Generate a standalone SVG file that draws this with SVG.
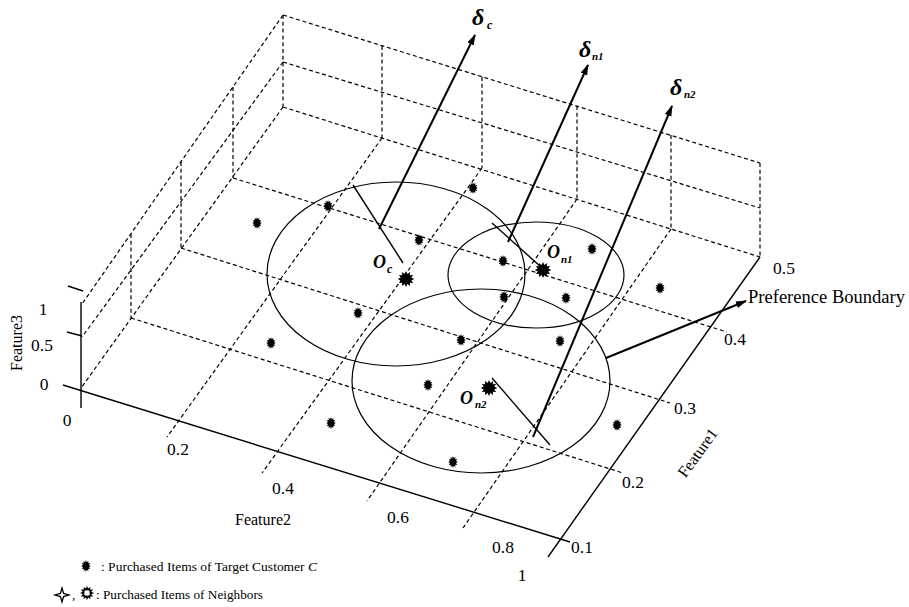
<svg xmlns="http://www.w3.org/2000/svg" xmlns:xlink="http://www.w3.org/1999/xlink" width="909" height="607" viewBox="0 0 909 607">
<style>
.d{fill:none;stroke:#000;stroke-width:1.2;stroke-dasharray:4 2.8}
.ax{fill:none;stroke:#000;stroke-width:1.4}
.el{fill:none;stroke:#000;stroke-width:1.2}
.thin{fill:none;stroke:#000;stroke-width:1.4}
.arr{fill:none;stroke:#000;stroke-width:2;marker-end:url(#ah)}
.num{font-family:"Liberation Serif","Times New Roman",serif;font-size:17.5px;text-anchor:middle;fill:#000}
.lab{font-family:"Liberation Serif","Times New Roman",serif;font-size:16px;text-anchor:middle;fill:#000}
.gk{font-family:"Liberation Serif","Times New Roman",serif;font-weight:bold;font-style:italic;fill:#000}
.leg{font-family:"Liberation Serif","Times New Roman",serif;font-size:13px;fill:#000}
</style>
<defs>
<marker id="ah" markerUnits="userSpaceOnUse" markerWidth="12" markerHeight="8" refX="10" refY="3.5" orient="auto">
<path d="M0,0 L11,3.5 L0,7 Z" fill="#000"/>
</marker>
<polygon id="st" points="5,0 3.2,0.86 4.33,2.5 2.33,2.33 2.5,4.33 0.86,3.2 0,5 -0.86,3.2 -2.5,4.33 -2.33,2.33 -4.33,2.5 -3.2,0.86 -5,0 -3.2,-0.86 -4.33,-2.5 -2.33,-2.33 -2.5,-4.33 -0.86,-3.2 0,-5 0.86,-3.2 2.5,-4.33 2.33,-2.33 4.33,-2.5 3.2,-0.86"/>
<use id="s" xlink:href="#st" href="#st" transform="scale(0.95,1.2)"/>
<use id="b" xlink:href="#st" href="#st" transform="scale(1.65,1.6)"/>
</defs>

<g id="grid">
<line class="d" x1="283" y1="107" x2="760" y2="257"/>
<line class="d" x1="233" y1="178" x2="727" y2="332"/>
<line class="d" x1="181" y1="248" x2="670" y2="403"/>
<line class="d" x1="131" y1="318" x2="623" y2="473"/>
<line class="d" x1="382" y1="138" x2="167" y2="437"/>
<line class="d" x1="482" y1="168" x2="262" y2="473"/>
<line class="d" x1="577" y1="199" x2="367" y2="501"/>
<line class="d" x1="671" y1="229" x2="463" y2="528"/>
<line class="d" x1="283" y1="107" x2="81" y2="388"/>
<line class="d" x1="283" y1="62" x2="82" y2="337"/>
<line class="d" x1="283" y1="15" x2="82" y2="304"/>
<line class="d" x1="283" y1="15" x2="283" y2="107"/>
<line class="d" x1="233" y1="87" x2="233" y2="178"/>
<line class="d" x1="181" y1="162" x2="181" y2="248"/>
<line class="d" x1="131" y1="234" x2="131" y2="318"/>
<line class="d" x1="283" y1="15" x2="760" y2="163"/>
<line class="d" x1="283" y1="62" x2="760" y2="208"/>
<line class="d" x1="382" y1="46" x2="382" y2="138"/>
<line class="d" x1="482" y1="77" x2="482" y2="168"/>
<line class="d" x1="577" y1="106" x2="577" y2="199"/>
<line class="d" x1="671" y1="135" x2="671" y2="229"/>
<line class="d" x1="760" y1="163" x2="760" y2="257"/>
</g>

<g id="axes">
<line class="ax" x1="63" y1="385" x2="570" y2="542"/>
<line class="ax" x1="548" y1="557" x2="760" y2="257"/>
<line class="ax" x1="81" y1="302" x2="81" y2="408" stroke-width="1.7"/>
<line class="ax" x1="68" y1="286" x2="83" y2="291"/>
<line class="ax" x1="67" y1="332" x2="82" y2="336"/>
<text class="num" x="43" y="315">1</text>
<text class="num" x="42" y="351">0.5</text>
<text class="num" x="44" y="390">0</text>
<text class="num" x="67" y="426">0</text>
<text class="num" x="178" y="455">0.2</text>
<text class="num" x="283" y="494">0.4</text>
<text class="num" x="398" y="523">0.6</text>
<text class="num" x="503" y="553">0.8</text>
<text class="num" x="522" y="581">1</text>
<text class="num" x="784" y="274">0.5</text>
<text class="num" x="735" y="345">0.4</text>
<text class="num" x="685" y="414">0.3</text>
<text class="num" x="633" y="488">0.2</text>
<text class="num" x="582" y="553">0.1</text>
<text class="lab" x="263" y="525">Feature2</text>
<text class="lab" transform="translate(17,343) rotate(-90)" x="0" y="5" font-size="15">Feature3</text>
<text class="lab" transform="translate(698,453) rotate(-54)" x="0" y="5">Feature1</text>
</g>

<g id="boundaries">
<ellipse id="boundary-c" class="el" cx="396" cy="274" rx="129" ry="92"/>
<ellipse id="boundary-n1" class="el" cx="536" cy="275" rx="88" ry="53"/>
<ellipse id="boundary-n2" class="el" cx="481" cy="381" rx="129" ry="92"/>
</g>

<g id="items">
<use href="#s" xlink:href="#s" x="257" y="223"/>
<use href="#s" xlink:href="#s" x="328" y="206"/>
<use href="#s" xlink:href="#s" x="419" y="240"/>
<use href="#s" xlink:href="#s" x="473" y="188"/>
<use href="#s" xlink:href="#s" x="358" y="313"/>
<use href="#s" xlink:href="#s" x="271" y="343"/>
<use href="#s" xlink:href="#s" x="331" y="423"/>
<use href="#s" xlink:href="#s" x="428" y="385"/>
<use href="#s" xlink:href="#s" x="503" y="261"/>
<use href="#s" xlink:href="#s" x="592" y="249"/>
<use href="#s" xlink:href="#s" x="660" y="288"/>
<use href="#s" xlink:href="#s" x="504" y="297"/>
<use href="#s" xlink:href="#s" x="566" y="298"/>
<use href="#s" xlink:href="#s" x="461" y="340"/>
<use href="#s" xlink:href="#s" x="560" y="341"/>
<use href="#s" xlink:href="#s" x="453" y="462"/>
<use href="#s" xlink:href="#s" x="617" y="425"/>
</g>

<g id="connectors">
<line class="thin" x1="353" y1="185" x2="403" y2="263"/>
<line class="thin" x1="492" y1="223" x2="541" y2="267"/>
<line class="thin" x1="492" y1="378" x2="550" y2="445"/>
<line class="arr" x1="379" y1="229" x2="475" y2="35"/>
<line class="arr" x1="508" y1="242" x2="588" y2="65"/>
<line class="arr" x1="533" y1="437" x2="672" y2="106"/>
<line class="arr" x1="606" y1="358" x2="746" y2="301"/>
</g>

<g id="center-c">
<use href="#b" xlink:href="#b" x="406" y="279"/>
<text class="gk" x="373" y="268" font-size="18">O</text>
<text class="gk" x="387" y="273" font-size="12">c</text>
</g>
<g id="center-n1">
<use href="#b" xlink:href="#b" x="543" y="270"/>
<text class="gk" x="547" y="258" font-size="18">O</text>
<text class="gk" x="561" y="263" font-size="11">n1</text>
</g>
<g id="center-n2">
<use href="#b" xlink:href="#b" x="489" y="388"/>
<text class="gk" x="460" y="404" font-size="18">O</text>
<text class="gk" x="475" y="408" font-size="11">n2</text>
</g>

<g id="delta-c"><text class="gk" x="472" y="25" font-size="24">δ</text><text class="gk" x="487" y="29" font-size="12">c</text></g>
<g id="delta-n1"><text class="gk" x="579" y="57" font-size="24">δ</text><text class="gk" x="592" y="60" font-size="11">n1</text></g>
<g id="delta-n2"><text class="gk" x="670" y="95" font-size="24">δ</text><text class="gk" x="684" y="98" font-size="11">n2</text></g>

<g id="preference-boundary-label">
<text x="748" y="303" font-family="Liberation Serif, Times New Roman, serif" font-size="18.5" textLength="157" lengthAdjust="spacingAndGlyphs">Preference Boundary</text>
</g>

<g id="legend">
<use href="#s" xlink:href="#s" x="86" y="566"/>
<text class="leg" x="101" y="571" textLength="216" lengthAdjust="spacingAndGlyphs">: Purchased Items of Target Customer <tspan font-style="italic">C</tspan></text>
<path d="M62,588 L63.6,593.4 L69,595 L63.6,596.6 L62,602 L60.4,596.6 L55,595 L60.4,593.4 Z" fill="#fff" stroke="#000" stroke-width="1.3"/>
<text class="leg" x="72" y="599">,</text>
<use href="#st" xlink:href="#st" x="0" y="0" transform="translate(87,593) scale(1.05)" fill="#fff" stroke="#000" stroke-width="1.4"/>
<text class="leg" x="96" y="599" textLength="167" lengthAdjust="spacingAndGlyphs">: Purchased Items of Neighbors</text>
</g>
</svg>
